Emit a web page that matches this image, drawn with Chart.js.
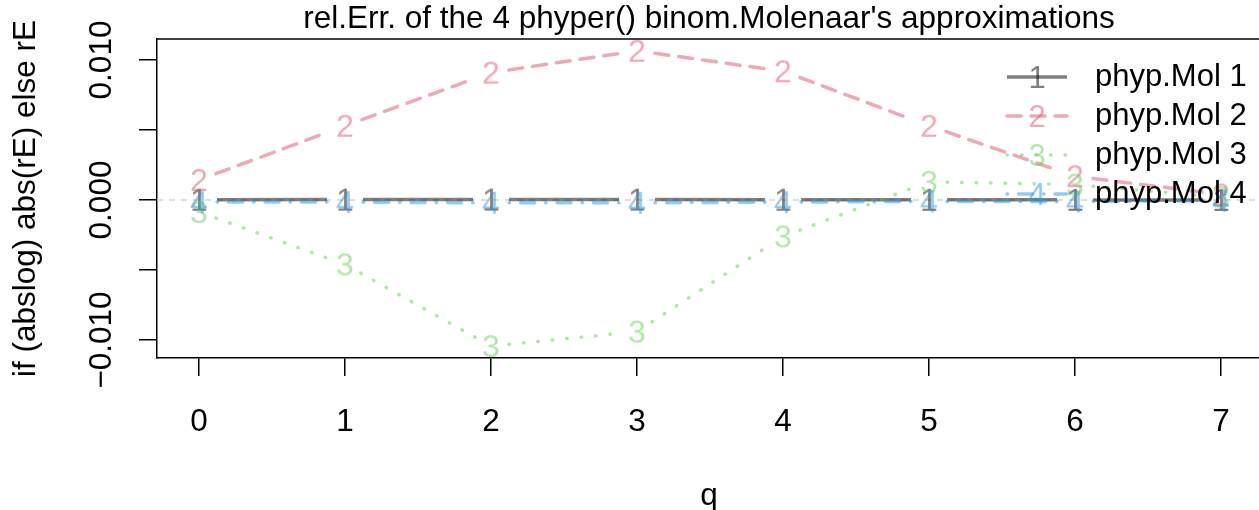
<!DOCTYPE html>
<html>
<head>
<meta charset="utf-8">
<script src="https://cdn.jsdelivr.net/npm/chart.js@4.4.1/dist/chart.umd.min.js"></script>
<style>
  html, body { margin: 0; padding: 0; background: #fff; }
</style>
</head>
<body>
<canvas id="grafico" width="1259" height="510"></canvas>
<script>
// Datos
const qValores = [0, 1, 2, 3, 4, 5, 6, 7];
const mol1 = [0.00002, 0.00003, 0.00003, 0.00003, 0.00002, 0.00001, 0.00001, 0.00000];
const mol2 = [0.00143, 0.00530, 0.00910, 0.01066, 0.00920, 0.00530, 0.00170, 0.00040];
const mol3 = [-0.00086, -0.00460, -0.01044, -0.00940, -0.00260, 0.00130, 0.00110, 0.00020];
const mol4 = [-0.00015, -0.00015, -0.00020, -0.00020, -0.00015, -0.00010, -0.00010, -0.00005];
const nombres = ['phyp.Mol 1', 'phyp.Mol 2', 'phyp.Mol 3', 'phyp.Mol 4'];
const simbolos = ['1', '2', '3', '4'];
const yTicks = [-0.01, -0.005, 0, 0.005, 0.01];
const yEtiquetas = ['\u22120.010', '', '0.000', '', '0.010'];
const titulo = "rel.Err. of the 4 phyper() binom.Molenaar's approximations";
const tituloY = 'if (abslog) abs(rE) else rE';
const tituloX = 'q';

const FUENTE = '"Liberation Sans", Arial, Helvetica, sans-serif';

// dibuja el digito que sirve de punto
function hacerDigito(txt, color, size) {
    const c = document.createElement('canvas');
    c.width = size * 2;
    c.height = size * 2;
    const g = c.getContext('2d');
    g.font = size + 'px ' + FUENTE;
    g.fillStyle = color;
    g.textAlign = 'center';
    g.textBaseline = 'alphabetic';
    const m = g.measureText(txt);
    const alto = m.actualBoundingBoxAscent - m.actualBoundingBoxDescent;
    g.fillText(txt, size, size + alto / 2);
    return c;
}

const estilos = [
    { color: 'rgba(0,0,0,0.5)', dash: [] },
    { color: 'rgba(223,83,107,0.5)', dash: [14, 10] },
    { color: 'rgba(97,208,79,0.5)', dash: [0.5, 14] },
    { color: 'rgba(34,151,230,0.5)', dash: [0.5, 11, 14, 11] }
];

const series = [mol1, mol2, mol3, mol4];
const datasets = series.map((s, i) => ({
    label: nombres[i],
    data: s.map((v, j) => ({ x: qValores[j], y: v })),
    showLine: false,
    order: series.length - i, // como R: la ultima serie queda encima
    borderColor: estilos[i].color,
    backgroundColor: estilos[i].color,
    pointStyle: hacerDigito(simbolos[i], estilos[i].color, 32),
    pointRadius: 12,
    dashR: estilos[i].dash
}));

// lineas tipo "b" de R: segmentos con hueco alrededor de cada punto
const lineasConHueco = {
    id: 'lineasConHueco',
    beforeDatasetsDraw(chart) {
        const ctx = chart.ctx;
        const area = chart.chartArea;
        const yScale = chart.scales.y;
        ctx.save();
        ctx.beginPath();
        ctx.rect(area.left, area.top, area.right - area.left, area.bottom - area.top);
        ctx.clip();
        // linea horizontal en cero
        const y0 = yScale.getPixelForValue(0);
        ctx.strokeStyle = '#D3D3D3';
        ctx.lineWidth = 1.5;
        ctx.setLineDash([6, 6]);
        ctx.beginPath();
        ctx.moveTo(area.left, y0);
        ctx.lineTo(area.right, y0);
        ctx.stroke();

        const hueco = 18;
        chart.data.datasets.forEach((ds, i) => {
            const pts = chart.getDatasetMeta(i).data;
            ctx.strokeStyle = ds.borderColor;
            ctx.lineWidth = 3.5;
            ctx.lineCap = ds.dashR.length ? 'round' : 'butt';
            for (let k = 0; k < pts.length - 1; k++) {
                const a = pts[k], b = pts[k + 1];
                const dx = b.x - a.x, dy = b.y - a.y;
                const len = Math.hypot(dx, dy);
                if (len <= 2 * hueco) continue;
                const ux = dx / len, uy = dy / len;
                ctx.setLineDash(ds.dashR);
                ctx.beginPath();
                ctx.moveTo(a.x + ux * hueco, a.y + uy * hueco);
                ctx.lineTo(b.x - ux * hueco, b.y - uy * hueco);
                ctx.stroke();
            }
        });
        ctx.restore();
    },
    afterDraw(chart) {
        const ctx = chart.ctx;
        const area = chart.chartArea;
        const yScale = chart.scales.y;
        ctx.save();
        ctx.fillStyle = '#000';
        // marco superior
        ctx.strokeStyle = '#000';
        ctx.lineWidth = 1.5;
        ctx.beginPath();
        ctx.moveTo(area.left, area.top);
        ctx.lineTo(area.right, area.top);
        ctx.stroke();

        // titulo
        const xc = 709;
        ctx.font = '31.5px ' + FUENTE;
        ctx.textAlign = 'center';
        ctx.textBaseline = 'middle';
        ctx.fillText(titulo, xc, 19);

        // etiqueta x
        ctx.font = '31.5px ' + FUENTE;
        ctx.fillText(tituloX, xc, 496);

        // etiqueta y
        ctx.save();
        ctx.translate(26, (area.top + area.bottom) / 2);
        ctx.rotate(-Math.PI / 2);
        ctx.fillText(tituloY, 0, 0);
        ctx.restore();

        // etiquetas del eje y (giradas, como R)
        ctx.textBaseline = 'alphabetic';
        yTicks.forEach((v, i) => {
            if (!yEtiquetas[i]) return;
            ctx.save();
            ctx.translate(111, yScale.getPixelForValue(v));
            ctx.rotate(-Math.PI / 2);
            ctx.fillText(yEtiquetas[i], 0, 0);
            ctx.restore();
        });

        // leyenda
        chart.data.datasets.forEach((ds, i) => {
            const y = 77 + i * 39;
            ctx.strokeStyle = ds.borderColor;
            ctx.lineWidth = 3.5;
            ctx.lineCap = ds.dashR.length ? 'round' : 'butt';
            ctx.setLineDash(ds.dashR);
            ctx.beginPath();
            ctx.moveTo(1007, y);
            ctx.lineTo(1067, y);
            ctx.stroke();
            ctx.setLineDash([]);
            const d = hacerDigito(simbolos[i], ds.borderColor, 31);
            ctx.drawImage(d, 1037 - d.width / 2, y - d.height / 2);
            ctx.fillStyle = '#000';
            ctx.font = '31px ' + FUENTE;
            ctx.textAlign = 'left';
            ctx.textBaseline = 'middle';
            ctx.fillText(nombres[i], 1095, y);
        });
        ctx.restore();
    }
};

new Chart(document.getElementById('grafico'), {
    type: 'scatter',
    data: { datasets: datasets },
    options: {
        responsive: false,
        devicePixelRatio: 1,
        animation: false,
        events: [],
        layout: { autoPadding: false, padding: { top: 39, right: 0, left: 0, bottom: 0 } },
        plugins: {
            legend: { display: false },
            tooltip: { enabled: false }
        },
        scales: {
            x: {
                type: 'linear',
                min: -0.288,
                max: 7.26,
                afterBuildTicks: scale => { scale.ticks = qValores.map(v => ({ value: v })); },
                afterFit: scale => {
                    scale.height = 152;
                    scale.paddingLeft = 0;
                    scale.paddingRight = 0;
                },
                grid: { drawOnChartArea: false, drawTicks: true, tickLength: 18, color: '#000', lineWidth: 1.5 },
                border: { display: true, color: '#000', width: 1.5 },
                ticks: {
                    color: '#000',
                    padding: 27,
                    maxRotation: 0,
                    autoSkip: false,
                    font: { family: FUENTE, size: 31.5 },
                    callback: v => String(v)
                }
            },
            y: {
                type: 'linear',
                min: -0.011286,
                max: 0.0115,
                afterBuildTicks: scale => { scale.ticks = yTicks.map(v => ({ value: v })); },
                afterFit: scale => {
                    scale.width = 157;
                    scale.paddingTop = 0;
                    scale.paddingBottom = 0;
                },
                grid: { drawOnChartArea: false, drawTicks: true, tickLength: 18, color: '#000', lineWidth: 1.5 },
                border: { display: true, color: '#000', width: 1.5 },
                ticks: { display: false }
            }
        }
    },
    plugins: [lineasConHueco]
});
</script>
</body>
</html>
